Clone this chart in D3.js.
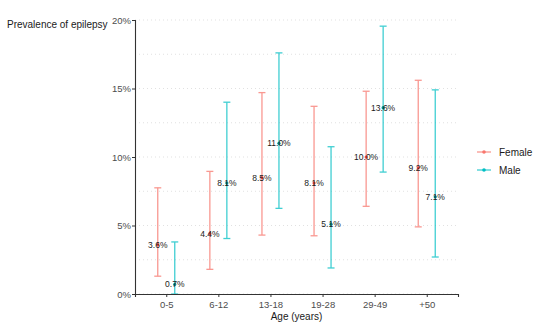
<!DOCTYPE html>
<html>
<head>
<meta charset="utf-8">
<script src="https://cdn.jsdelivr.net/npm/d3@7"></script>
<style>
  body { margin: 0; background: #fff; }
  svg { font-family: "Liberation Sans", Arial, sans-serif; }
</style>
</head>
<body>
<svg id="chart" width="535" height="327"></svg>
<script>
var ages = ["0-5", "6-12", "13-18", "19-28", "29-49", "+50"]
var sexes = ["Female", "Male"]
var colors = ["#F8766D", "#00BFC4"]

// prevalence (%) with 95% CI
var femaleVal = [3.6, 4.4, 8.5, 8.1, 10.0, 9.2]
var femaleLow = [1.3, 1.8, 4.3, 4.25, 6.4, 4.9]
var femaleHigh = [7.75, 8.95, 14.7, 13.7, 14.8, 15.6]
var maleVal = [0.7, 8.1, 11.0, 5.1, 13.6, 7.1]
var maleLow = [0.0, 4.05, 6.25, 1.9, 8.9, 2.7]
var maleHigh = [3.8, 14.0, 17.6, 10.75, 19.55, 14.9]

var yTicks = [0, 5, 10, 15, 20]
var yMinor = [2.5, 7.5, 12.5, 17.5]

var margin = { top: 20, left: 135, bottom: 33, right: 77 }
var width = 535 - margin.left - margin.right
var height = 327 - margin.top - margin.bottom

var svg = d3.select("#chart")
var g = svg.append("g")
    .attr("transform", `translate(${margin.left},${margin.top})`)

var x = d3.scalePoint().domain(ages).range([0, width]).padding(0.6)
var y = d3.scaleLinear().domain([0, 20]).range([height, 0])
var dodge = d3.scalePoint().domain(sexes).range([-8.5, 8.5])

// grid
g.selectAll(".grid")
    .data(yTicks.concat(yMinor))
    .join("line")
    .attr("x1", 0).attr("x2", width)
    .attr("y1", d => y(d)).attr("y2", d => y(d))
    .attr("stroke", "#d9d9d9")
    .attr("stroke-width", 0.8)
    .attr("stroke-dasharray", "1,3")

var rows = []
ages.forEach((a, i) => {
    rows.push({ age: a, sex: "Female", v: femaleVal[i], lo: femaleLow[i], hi: femaleHigh[i] })
    rows.push({ age: a, sex: "Male", v: maleVal[i], lo: maleLow[i], hi: maleHigh[i] })
})
var col = d => colors[sexes.indexOf(d.sex)]
var cx = d => x(d.age) + dodge(d.sex)

var bars = g.selectAll(".err").data(rows).join("g").attr("opacity", 0.75)
bars.append("line")
    .attr("x1", cx).attr("x2", cx)
    .attr("y1", d => y(d.lo)).attr("y2", d => y(d.hi))
    .attr("stroke", col).attr("stroke-width", 1.3)
bars.append("line")
    .attr("x1", d => cx(d) - 3.5).attr("x2", d => cx(d) + 3.5)
    .attr("y1", d => y(d.hi)).attr("y2", d => y(d.hi))
    .attr("stroke", col).attr("stroke-width", 1.3)
bars.append("line")
    .attr("x1", d => cx(d) - 3.5).attr("x2", d => cx(d) + 3.5)
    .attr("y1", d => y(d.lo)).attr("y2", d => y(d.lo))
    .attr("stroke", col).attr("stroke-width", 1.3)

g.selectAll(".pt").data(rows).join("circle")
    .attr("cx", cx).attr("cy", d => y(d.v))
    .attr("r", 1.6)
    .attr("fill", d => d.sex == "Female" ? "#e8473d" : "#008b8f")

g.selectAll(".lab").data(rows).join("text")
    .attr("x", cx).attr("y", d => y(d.v))
    .attr("dy", "0.35em")
    .attr("text-anchor", "middle")
    .attr("font-size", 8.5)
    .attr("fill", "#1a1a1a")
    .text(d => d.v.toFixed(1) + "%")

// axes
var yAxis = g.append("g")
    .call(d3.axisLeft(y).tickValues(yTicks).tickSize(3).tickFormat(d => d + "%"))
var xAxis = g.append("g")
    .attr("transform", `translate(0,${height})`)
    .call(d3.axisBottom(x).tickSize(3))
;[yAxis, xAxis].forEach(a => {
    a.select(".domain").attr("stroke", "#333").attr("stroke-width", 1.1)
    a.selectAll(".tick line").attr("stroke", "#333")
    a.selectAll(".tick text").attr("fill", "#4d4d4d").attr("font-size", 9.5)
        .attr("font-family", "Liberation Sans, Arial, sans-serif")
})
yAxis.selectAll(".tick text").attr("x", -4)
xAxis.selectAll(".tick text").attr("y", 7)

svg.append("text")
    .attr("x", 7).attr("y", 28)
    .attr("font-size", 10)
    .attr("fill", "#1a1a1a")
    .text("Prevalence of epilepsy")

svg.append("text")
    .attr("x", margin.left + width / 2).attr("y", 320)
    .attr("text-anchor", "middle")
    .attr("font-size", 10)
    .attr("fill", "#1a1a1a")
    .text("Age (years)")

// legend
var leg = svg.append("g").attr("transform", "translate(477,152)")
sexes.forEach((s, i) => {
    var r = leg.append("g").attr("transform", `translate(0,${i * 18})`)
    r.append("line").attr("x1", 0).attr("x2", 14).attr("stroke", colors[i])
        .attr("stroke-width", 1.3).attr("opacity", 0.75)
    r.append("circle").attr("cx", 7).attr("r", 1.8).attr("fill", colors[i])
    r.append("text").attr("x", 22).attr("dy", "0.35em")
        .attr("font-size", 10).attr("fill", "#1a1a1a").text(s)
})
</script>
</body>
</html>
